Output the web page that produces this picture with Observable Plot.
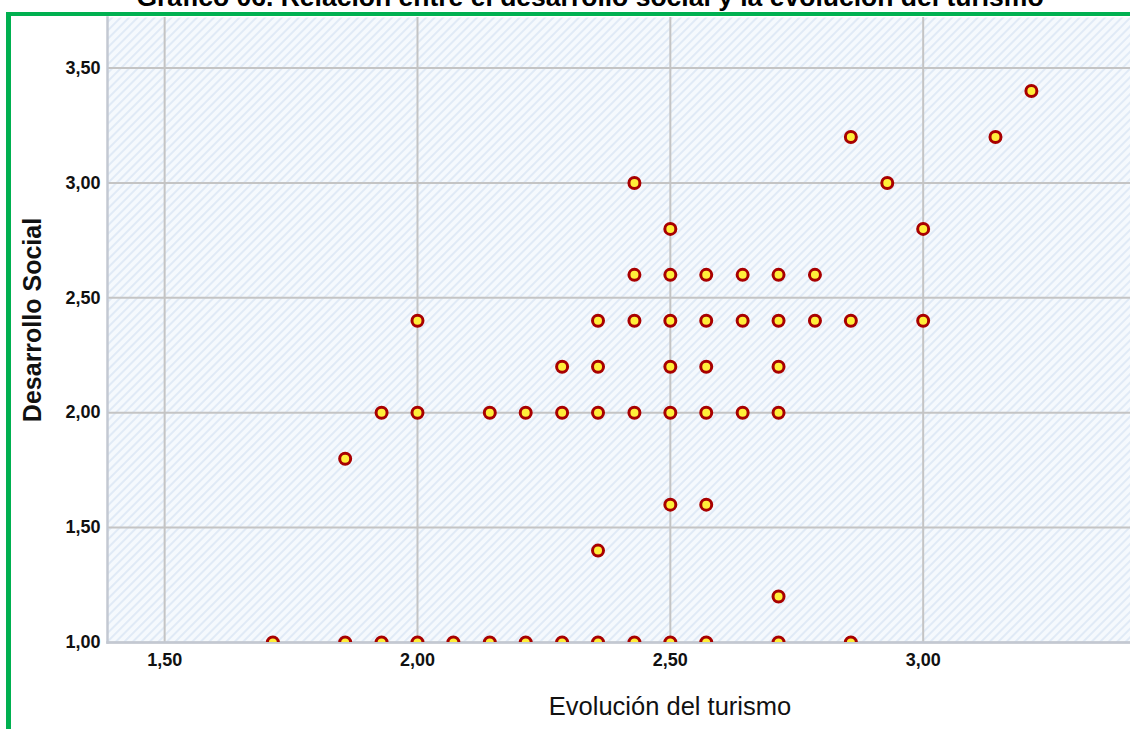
<!DOCTYPE html>
<html>
<head>
<meta charset="utf-8">
<script src="https://cdn.jsdelivr.net/npm/d3@7"></script>
<script src="https://cdn.jsdelivr.net/npm/@observablehq/plot@0.6"></script>
<style>
  html, body { margin: 0; padding: 0; background: #fff; overflow: hidden; }
  #wrap { position: relative; width: 1130px; height: 729px; overflow: hidden; }
  #title { position: absolute; top: -18px; left: 0; width: 1180px; text-align: center;
    font: bold 26.5px "Liberation Sans", Arial, sans-serif; color: #000; white-space: nowrap; line-height: 30px; }
  #border { position: absolute; left: 6px; top: 12px; width: 2000px; height: 2000px;
    border-left: 5px solid #00b050; border-top: 4px solid #00b050; }
  #chart { position: absolute; left: 0; top: 0; }
  #chart g[aria-label="x-axis tick label"], #chart g[aria-label="y-axis tick label"] {
    font-size: 18px; font-weight: bold; fill: #111;
    font-family: "Liberation Sans Narrow", "Arial Narrow", "Liberation Sans", Arial, sans-serif;
  }
</style>
</head>
<body>
<div id="wrap">
  <div id="title">Gráfico 06. Relación entre el desarrollo social y la evolución del turismo</div>
  <div id="border"></div>
  <div id="chart"></div>
</div>
<script>
// Evolución del turismo (x) and Desarrollo Social (y), one pair per plotted point
const turismo = [
  3.214,
  2.857, 3.143,
  2.429, 2.929,
  2.5, 3.0,
  2.429, 2.5, 2.571, 2.643, 2.714, 2.786,
  2.0, 2.357, 2.429, 2.5, 2.571, 2.643, 2.714, 2.786, 2.857, 3.0,
  2.286, 2.357, 2.5, 2.571, 2.714,
  1.929, 2.0, 2.143, 2.214, 2.286, 2.357, 2.429, 2.5, 2.571, 2.643, 2.714,
  1.857,
  2.5, 2.571,
  2.357,
  2.714,
  1.714, 1.857, 1.929, 2.0, 2.071, 2.143, 2.214, 2.286, 2.357, 2.429, 2.5, 2.571, 2.714, 2.857
];
const social = [
  3.4,
  3.2, 3.2,
  3.0, 3.0,
  2.8, 2.8,
  2.6, 2.6, 2.6, 2.6, 2.6, 2.6,
  2.4, 2.4, 2.4, 2.4, 2.4, 2.4, 2.4, 2.4, 2.4, 2.4,
  2.2, 2.2, 2.2, 2.2, 2.2,
  2.0, 2.0, 2.0, 2.0, 2.0, 2.0, 2.0, 2.0, 2.0, 2.0, 2.0,
  1.8,
  1.6, 1.6,
  1.4,
  1.2,
  1.0, 1.0, 1.0, 1.0, 1.0, 1.0, 1.0, 1.0, 1.0, 1.0, 1.0, 1.0, 1.0, 1.0
];
const xTicks = [1.5, 2.0, 2.5, 3.0];
const yTicks = [1.0, 1.5, 2.0, 2.5, 3.0, 3.5];
const xLabel = "Evolución del turismo";
const yLabel = "Desarrollo Social";

const points = turismo.map((t, i) => ({turismo: t, social: social[i]}));
const fmt = d => d.toFixed(2).replace(".", ",");

const plot = Plot.plot({
  width: 1130,
  height: 729,
  marginLeft: 107,
  marginTop: 17,
  marginRight: 0,
  marginBottom: 87,
  style: {background: "transparent", fontFamily: '"Liberation Sans", Arial, sans-serif'},
  x: {domain: [1.387, 3.41]},
  y: {domain: [1.0, 3.72]},
  marks: [
    Plot.frame({fill: "url(#hatch)", stroke: "none"}),
    Plot.gridX(xTicks, {stroke: "#c4c4c4", strokeOpacity: 1, strokeWidth: 2}),
    Plot.gridY(yTicks, {stroke: "#c4c4c4", strokeOpacity: 1, strokeWidth: 2}),
    Plot.frame({anchor: "left", stroke: "#c3c8d2", strokeWidth: 2.5}),
    Plot.frame({anchor: "bottom", stroke: "#c3c8d2", strokeWidth: 2.5}),
    Plot.axisX(xTicks, {tickSize: 0, tickPadding: 11, tickFormat: fmt, label: null}),
    Plot.axisY(yTicks, {tickSize: 0, tickPadding: 7, tickFormat: fmt, label: null}),
    Plot.dot(points, {x: "turismo", y: "social", r: 5.5, fill: "#ffef3a",
      stroke: "#a80000", strokeWidth: 3, clip: true}),
    Plot.text([xLabel], {frameAnchor: "bottom", text: d => d, dx: 51, dy: 72,
      fontSize: 25.5, fill: "#111", textAnchor: "middle"}),
    Plot.text([yLabel], {frameAnchor: "left", text: d => d, rotate: -90, dx: -75, dy: -10,
      fontSize: 25, fontWeight: "bold", fill: "#111", textAnchor: "middle"})
  ]
});

const ns = "http://www.w3.org/2000/svg";
const defs = document.createElementNS(ns, "defs");
defs.innerHTML = `<pattern id="hatch" width="6" height="6" patternUnits="userSpaceOnUse" patternTransform="rotate(45)">
  <rect width="6" height="6" fill="#f5f9fd"></rect>
  <line x1="1" y1="0" x2="1" y2="6" stroke="#d9e5f4" stroke-width="1.5"></line>
</pattern>`;
plot.insertBefore(defs, plot.firstChild);
document.getElementById("chart").appendChild(plot);
</script>
</body>
</html>
